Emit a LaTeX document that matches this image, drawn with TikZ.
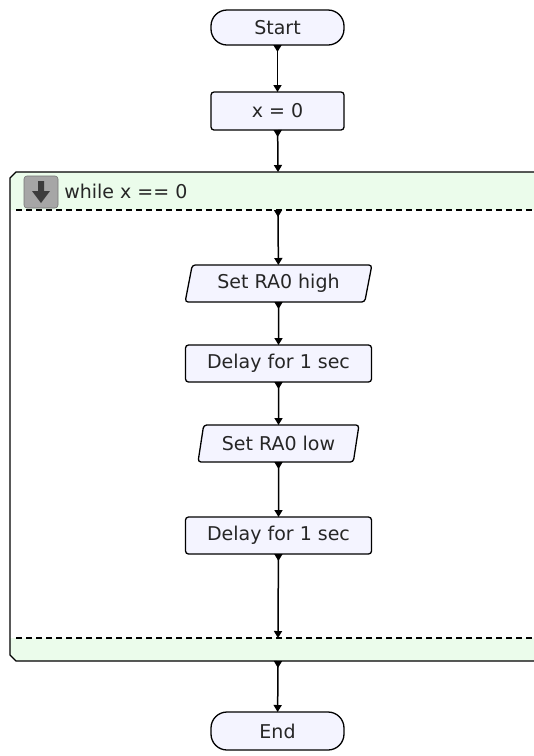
\documentclass[tikz,border=0pt]{standalone}
\usepackage{fontspec}
\setmainfont{DejaVu Sans}
\usetikzlibrary{positioning}
\usetikzlibrary{shapes.geometric}
\usetikzlibrary{arrows.meta}
\usetikzlibrary{decorations.markings}

\definecolor{boxfill}{HTML}{F4F4FF}
\definecolor{loopfill}{HTML}{EBFCEB}
\definecolor{iconfill}{HTML}{A6A6A6}
\definecolor{icondark}{HTML}{3C3C3C}
\definecolor{textgray}{HTML}{262626}

\tikzset{
  terminal/.style={draw, fill=boxfill, rounded corners=16pt, minimum width=133pt, minimum height=35pt},
  process/.style={draw, fill=boxfill, rounded corners=3pt, minimum width=186pt, minimum height=37pt},
  io/.style={draw, fill=boxfill, trapezium, trapezium left angle=78, trapezium right angle=102,
    trapezium stretches=true, rounded corners=3pt, minimum height=37pt},
  flow/.style={-{Triangle[width=8pt,length=7pt]}, line width=1.5pt, postaction={decorate},
    decoration={markings, mark=at position 7pt with {\arrow{Triangle[width=8pt,length=7pt]}}}},
  loopline/.style={dash pattern=on 6pt off 4pt, line width=1.1pt}
}

\begin{document}
\begin{tikzpicture}[x=1pt, y=-1pt, line width=1.3pt, outer sep=0pt,
    font=\fontsize{19}{22}\selectfont, text=textgray]
          \useasboundingbox (0,0) rectangle (534,756);

          % while loop frame
          \fill[loopfill] (540,172) -- (16,172) -- (10,178) -- (10,210) -- (540,210) -- cycle;
          \fill[loopfill] (540,638) -- (10,638) -- (10,655) -- (16,661) -- (540,661) -- cycle;
          \draw (540,172) -- (16,172) -- (10,178) -- (10,655) -- (16,661) -- (540,661);
          \draw[loopline] (16,210) -- (540,210);
          \draw[loopline] (16,638) -- (540,638);
          \draw[fill=iconfill, draw=iconfill!70!black, line width=0.6pt, rounded corners=3pt] (24,176) rectangle (58,208);
          \fill[icondark] (38,181) -- (44,181) -- (44,191) -- (50,191) -- (41,203) -- (32,191) -- (38,191) -- cycle;
          \node[anchor=base west] (cond) at (61,198) {while x == 0};

          \node[terminal] (start) at (277.5,27.5) {Start};
          \node[process, minimum width=133pt, minimum height=38pt, below=47pt of start] (init) {x = 0};

          \coordinate (loopin) at (278,172);
          \coordinate (loophead) at (278,210);
          \coordinate (loopfoot) at (278,638);
          \coordinate (loopout) at (278,661);

          \node[io, minimum width=187pt] (high) at (278.5,283.5) {Set RA0 high};
          \node[process, below=43pt of high] (delay1) {Delay for 1 sec};
          \node[io, minimum width=161pt, below=43pt of delay1] (low) {Set RA0 low};
          \node[process, below=55pt of low] (delay2) {Delay for 1 sec};

          \node[terminal, minimum height=38pt] (stop) at (277.5,731) {End};

          \draw[flow] (start) -- (init);
          \draw[flow] (init) -- (loopin);
          \draw[flow] (loophead) -- (high);
          \draw[flow] (high) -- (delay1);
          \draw[flow] (delay1) -- (low);
          \draw[flow] (low) -- (delay2);
          \draw[flow] (delay2) -- (loopfoot);
          \draw[flow] (loopout) -- (stop);
        \end{tikzpicture}
\end{document}
